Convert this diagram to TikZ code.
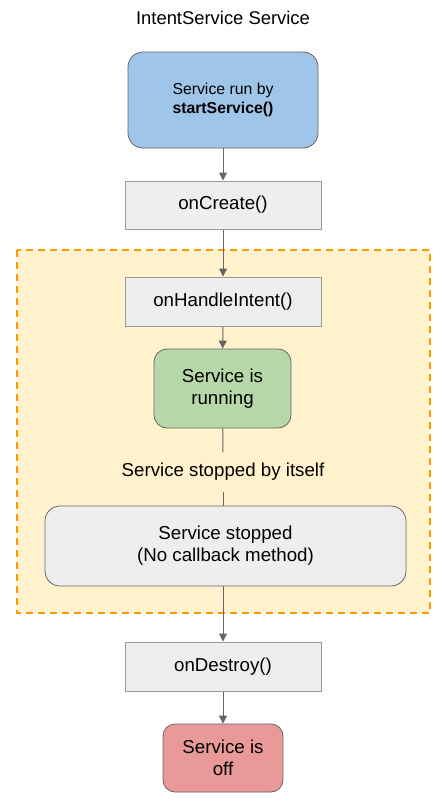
\documentclass[tikz,border=0pt]{standalone}
\usepackage{fontspec}
\setmainfont{Liberation Sans}
\usetikzlibrary{arrows.meta}
\definecolor{boxgray}{HTML}{EEEEEE}
\definecolor{linegray}{HTML}{666666}
\definecolor{edgegray}{HTML}{999999}
\definecolor{runblue}{HTML}{9FC5E8}
\definecolor{rungreen}{HTML}{B6D7A8}
\definecolor{offred}{HTML}{EA9999}
\definecolor{areayellow}{HTML}{FFF2CC}
\definecolor{areaorange}{HTML}{FF9900}
\tikzset{
  callback/.style={draw=edgegray, fill=boxgray, line width=1pt, minimum width=196pt, minimum height=48pt, font=\fontsize{18.7}{22}\selectfont},
  state/.style={draw=linegray, line width=0.8pt, rounded corners=13pt, align=center, font=\fontsize{18.7}{22}\selectfont},
  flow/.style={draw=linegray, line width=1pt, -{Triangle[length=8pt,width=8pt]}}
}
\begin{document}
\begin{tikzpicture}[x=1pt,y=-1pt]
	\useasboundingbox (0,0) rectangle (446,803);
	\node[font=\fontsize{18.4}{22}\selectfont] (title) at (223,18) {IntentService Service};
	% worker thread area
	\draw[areaorange, fill=areayellow, line width=1.6pt, dash pattern=on 7pt off 5pt] (17,250) rectangle (430,613);
	\node[state, fill=runblue, minimum width=190pt, minimum height=96pt, rounded corners=15pt, font=\fontsize{15.8}{18.7}\selectfont] (start) at (223,100) {Service run by\\\textbf{startService()}};
	\node[callback] (create) at (223,205) {onCreate()};
	\node[callback, minimum height=49pt] (handle) at (223,301.5) {onHandleIntent()};
	\node[state, fill=rungreen, minimum width=137pt, minimum height=79pt] (running) at (222.5,388.5) {Service is\\running};
	\node[font=\fontsize{18.7}{22}\selectfont, inner sep=0pt, text height=13.5pt, text depth=4pt, minimum height=39pt] (selfstop) at (223,472) {Service stopped by itself};
	\node[state, fill=boxgray, minimum width=361pt, minimum height=80pt, rounded corners=15pt] (stopped) at (225.5,546) {Service stopped\\(No callback method)};
	\node[callback, minimum height=49pt] (destroy) at (223,666.5) {onDestroy()};
	\node[state, fill=offred, minimum width=120pt, minimum height=68pt, rounded corners=12pt] (off) at (223,758) {Service is\\off};
	% connectors
	\draw[flow] (start) -- (create);
	\draw[flow] (create) -- (handle);
	\draw[flow] (handle) -- (running);
	\draw[linegray, line width=1pt] (running) -- (selfstop);
	\draw[linegray, line width=1pt] (selfstop) -- (223,506);
	\draw[flow] (223,586) -- (destroy);
	\draw[flow] (destroy) -- (off);
\end{tikzpicture}
\end{document}
